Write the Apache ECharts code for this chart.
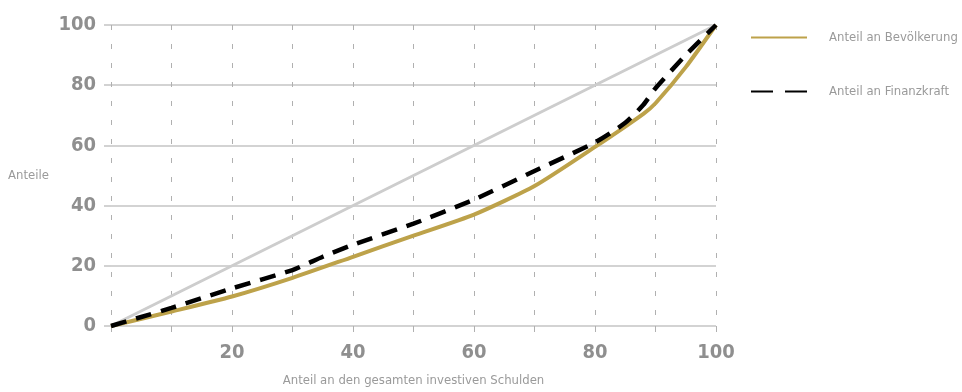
<!DOCTYPE html>
<html>
<head>
<meta charset="utf-8">
<script src="https://cdn.jsdelivr.net/npm/echarts@6/dist/echarts.min.js"></script>
<style>html,body{margin:0;padding:0;background:#fff}#c{width:962px;height:392px}</style>
</head>
<body>
<div id="c"></div>
<script>
const seriesNames = ['Anteil an Bevölkerung', 'Anteil an Finanzkraft'];
const xPop = [0, 10, 20, 30, 40, 50, 60, 70, 80, 88, 90, 95, 100];
const pop  = [0, 4.8, 9.8, 16, 23, 30, 37, 46.5, 59.5, 70.5, 74, 86, 100];
const xFin = [0, 5, 10, 20, 30, 35, 40, 50, 60, 70, 80, 85, 88, 90, 95, 100];
const fin  = [0, 3, 6, 12.5, 18.6, 23, 27, 34, 42, 51.5, 61, 67.5, 73.5, 79, 90, 100];
const xDiag = [0, 100];
const diag  = [0, 100];
const xTickLabels = [20, 40, 60, 80, 100];
const yTickLabels = [0, 20, 40, 60, 80, 100];
const xName = 'Anteil an den gesamten investiven Schulden';
const yName = 'Anteile';

const pairs = (xs, ys) => xs.map((x, i) => [x, ys[i]]);
const FONT = '"DejaVu Sans Condensed", "Liberation Sans Narrow", sans-serif';

const chart = echarts.init(document.getElementById('c'), null, {renderer: 'canvas'});
chart.setOption({
  animation: false,
  backgroundColor: '#ffffff',
  grid: {left: 111, width: 605, top: 25, height: 301, containLabel: false, outerBoundsMode: 'none'},
  legend: {
    data: [
      {name: seriesNames[0]},
      {name: seriesNames[1], lineStyle: {type: [22, 12]}}
    ],
    orient: 'vertical',
    left: 745, top: 26,
    itemWidth: 56, itemHeight: 16, itemGap: 41,
    itemStyle: {opacity: 0},
    textStyle: {color: '#9a9a9a', fontSize: 13, fontFamily: FONT, padding: [0, 0, 0, 17]}
  },
  xAxis: {
    type: 'value', min: 0, max: 100, interval: 10,
    name: xName, nameLocation: 'middle', nameGap: 48,
    nameTextStyle: {color: '#9a9a9a', fontSize: 13, fontFamily: FONT},
    axisLine: {show: false},
    axisTick: {show: true, length: 6, lineStyle: {color: '#b0b0b0', width: 1}},
    axisLabel: {
      margin: 17, color: '#8f8f8f', fontSize: 20, fontWeight: 'bold', fontFamily: FONT,
      formatter: v => xTickLabels.includes(v) ? String(v) : ''
    },
    splitLine: {show: true, lineStyle: {color: '#b0b0b0', width: 1, type: [5, 14]}}
  },
  yAxis: {
    type: 'value', min: 0, max: 100, interval: 20,
    name: yName, nameLocation: 'middle', nameRotate: 0, nameGap: 62,
    nameTextStyle: {color: '#9a9a9a', fontSize: 13, fontFamily: FONT},
    axisLine: {show: false},
    axisTick: {show: true, length: 7, lineStyle: {color: '#c4c4c4', width: 1.5}},
    axisLabel: {
      margin: 15, color: '#8f8f8f', fontSize: 20, fontWeight: 'bold', fontFamily: FONT,
      formatter: v => yTickLabels.includes(v) ? String(v) : ''
    },
    splitLine: {show: true, lineStyle: {color: '#c4c4c4', width: 1.5}}
  },
  series: [
    {
      name: 'Gleichverteilung', type: 'line', data: pairs(xDiag, diag),
      symbol: 'none', silent: true,
      lineStyle: {color: '#cdcdcd', width: 3}
    },
    {
      name: seriesNames[0], type: 'line', data: pairs(xPop, pop),
      symbol: 'none', smooth: 0.2,
      itemStyle: {color: '#bda24a'},
      lineStyle: {color: '#bda24a', width: 4}
    },
    {
      name: seriesNames[1], type: 'line', data: pairs(xFin, fin),
      symbol: 'none', smooth: 0.2,
      itemStyle: {color: '#000000'},
      lineStyle: {color: '#000000', width: 4.5, type: [16, 10]}
    }
  ]
});
</script>
</body>
</html>
